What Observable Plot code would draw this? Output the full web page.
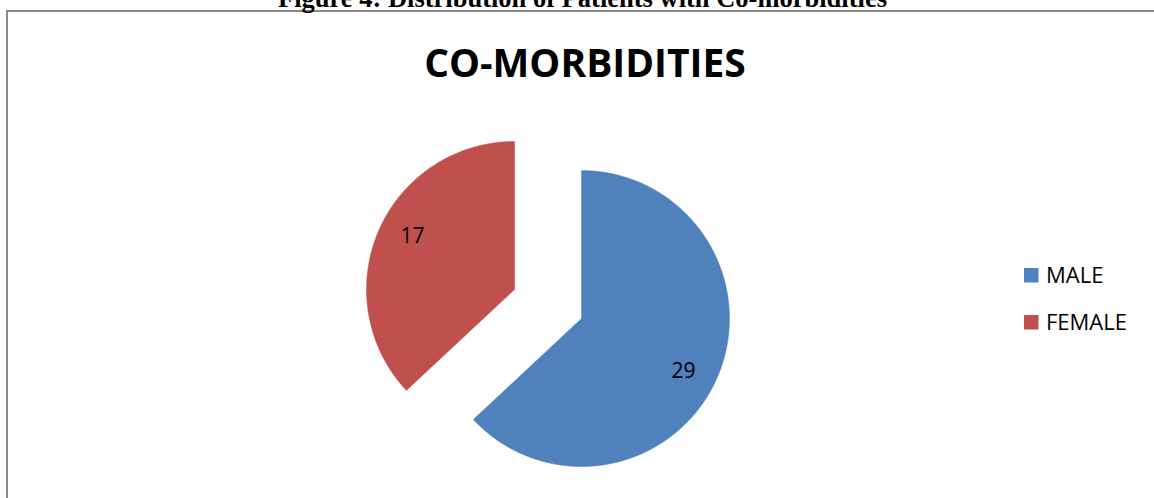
<!DOCTYPE html>
<html>
<head>
<meta charset="utf-8">
<script src="https://cdn.jsdelivr.net/npm/d3@7"></script>
<script src="https://cdn.jsdelivr.net/npm/@observablehq/plot@0.6"></script>
<style>
  html, body { margin: 0; padding: 0; background: #fff; }
  #wrap { position: relative; width: 1154px; height: 498px; overflow: hidden; background: #fff; }
  #frame { position: absolute; left: 6px; top: 10px; width: 1200px; height: 600px;
           border-left: 2px solid #8a8a8a; border-top: 2px solid #8a8a8a; }
  #caption { position: absolute; left: 0; top: -15px; width: 1165px; text-align: center;
             font-family: "Liberation Serif", "Times New Roman", serif; font-weight: bold;
             font-size: 26.5px; line-height: 26.5px; color: #000; white-space: nowrap; }
  #title { position: absolute; left: 0; top: 42px; width: 1170px; text-align: center;
           font-family: "Open Sans", sans-serif; font-weight: bold;
           font-size: 39px; line-height: 39px; color: #000; white-space: nowrap; }
  #chart { position: absolute; left: 0; top: 0; }
</style>
</head>
<body>
<div id="wrap">
  <div id="frame"></div>
  <div id="caption"></div>
  <div id="title"></div>
  <div id="chart"></div>
</div>
<script>
// ---- data ----
const categories = ["MALE", "FEMALE"];
const values = [29, 17];
const colors = ["#4F81BD", "#C0504D"];
const chartTitle = "CO-MORBIDITIES";
const figureCaption = "Figure 4: Distribution of Patients with Co-morbidities";

// ---- layout constants ----
const cx = 547.5, cy = 303.5, R = 148, explode = 36.5;
const labelRadius = 115, labelTurn = 4 * Math.PI / 180;
const legendX = 1024, legendY = 268, legendStep = 47, swatch = 14.5;

document.getElementById("caption").textContent = figureCaption;
document.getElementById("title").textContent = chartTitle;

const arcs = d3.pie().sort(null).value(d => d)(values);

const slicePoints = [];
const labels = [];
arcs.forEach((a, i) => {
  const key = categories[i];
  const mid = (a.startAngle + a.endAngle) / 2;
  const ox = cx + explode * Math.sin(mid);
  const oy = cy - explode * Math.cos(mid);
  slicePoints.push({key, x: ox, y: oy});
  const n = Math.ceil((a.endAngle - a.startAngle) * 180 / Math.PI * 2);
  for (let k = 0; k <= n; k++) {
    const t = a.startAngle + (a.endAngle - a.startAngle) * k / n;
    slicePoints.push({key, x: ox + R * Math.sin(t), y: oy - R * Math.cos(t)});
  }
  slicePoints.push({key, x: ox, y: oy});
  const la = mid + labelTurn;
  labels.push({key, value: String(a.data), x: ox + labelRadius * Math.sin(la), y: oy - labelRadius * Math.cos(la)});
});

const legend = categories.map((key, i) => ({
  key,
  x1: legendX, x2: legendX + swatch,
  y1: legendY + i * legendStep, y2: legendY + i * legendStep + swatch,
  tx: legendX + swatch + 7, ty: legendY + i * legendStep + swatch / 2
}));

const chart = Plot.plot({
  width: 1154,
  height: 498,
  margin: 0,
  x: {type: "identity", axis: null},
  y: {type: "identity", axis: null},
  color: {domain: categories, range: colors},
  style: {background: "transparent", fontFamily: "'Open Sans', sans-serif"},
  marks: [
    Plot.line(slicePoints, {x: "x", y: "y", z: "key", fill: "key", stroke: "key", strokeWidth: 0.5, curve: "linear"}),
    Plot.text(labels, {x: "x", y: "y", text: "value", fontSize: 21, fill: "#000"}),
    Plot.rect(legend, {x1: "x1", x2: "x2", y1: "y1", y2: "y2", fill: "key"}),
    Plot.text(legend, {x: "tx", y: "ty", text: "key", textAnchor: "start", fontSize: 22, fill: "#000"})
  ]
});
document.getElementById("chart").appendChild(chart);
</script>
</body>
</html>
